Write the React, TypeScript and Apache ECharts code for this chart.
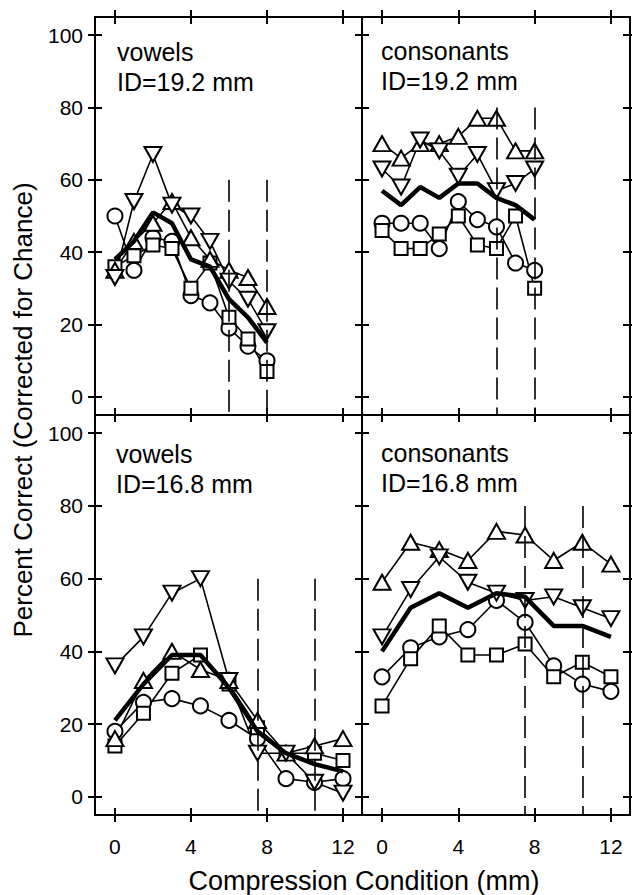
import React, { useEffect, useRef } from "react";
import * as echarts from "echarts";

// x positions (compression condition, mm)
const xTop = [0, 1, 2, 3, 4, 5, 6, 7, 8];
const xBottom = [0, 1.5, 3, 4.5, 6, 7.5, 9, 10.5, 12];
const xTicks = [0, 4, 8, 12];
const yTicks = [0, 20, 40, 60, 80, 100];

// vowels, ID = 19.2 mm
const v192Circle = [50, 35, 44, 43, 28, 26, 19, 14, 10];
const v192Square = [36, 39, 42, 41, 30, 37, 22, 16, 7];
const v192Up = [35, 43, 48, 54, 44, 38, 35, 33, 25];
const v192Down = [33, 54, 67, 53, 50, 43, 32, 27, 18];
const v192Mean = [38, 43, 51, 48, 38, 36, 27, 22, 15];

// consonants, ID = 19.2 mm
const c192Circle = [48, 48, 48, 41, 54, 49, 47, 37, 35];
const c192Square = [46, 41, 41, 45, 50, 42, 41, 50, 30];
const c192Up = [70, 66, 70, 70, 72, 77, 77, 68, 68];
const c192Down = [63, 58, 71, 68, 61, 67, 57, 59, 63];
const c192Mean = [57, 53, 58, 55, 59, 59, 55, 53, 49];

// vowels, ID = 16.8 mm
const v168Circle = [18, 26, 27, 25, 21, 16, 5, 4, 5];
const v168Square = [14, 23, 34, 39, 31, 19, 12, 12, 10];
const v168Up = [16, 32, 40, 35, 32, 21, 12, 14, 16];
const v168Down = [36, 44, 56, 60, 32, 12, 12, 4, 1];
const v168Mean = [21, 31, 39, 39, 30, 18, 12, 9, 7];

// consonants, ID = 16.8 mm
const c168Circle = [33, 41, 44, 46, 54, 48, 36, 31, 29];
const c168Square = [25, 38, 47, 39, 39, 42, 33, 37, 33];
const c168Up = [59, 70, 68, 65, 73, 72, 65, 70, 64];
const c168Down = [44, 57, 66, 59, 56, 54, 55, 52, 49];
const c168Mean = [40, 52, 56, 52, 56, 55, 47, 47, 44];

// dashed reference lines (x position)
const dashTop = [6, 8];
const dashBottom = [7.5, 10.5];

const FONT = '"Liberation Sans", Arial, Helvetica, sans-serif';

const panels = [
  { x: xTop, circle: v192Circle, square: v192Square, up: v192Up, down: v192Down, mean: v192Mean, dash: dashTop, dashFrom: 60, l1: "vowels", l2: "ID=19.2 mm" },
  { x: xTop, circle: c192Circle, square: c192Square, up: c192Up, down: c192Down, mean: c192Mean, dash: dashTop, dashFrom: 80, l1: "consonants", l2: "ID=19.2 mm" },
  { x: xBottom, circle: v168Circle, square: v168Square, up: v168Up, down: v168Down, mean: v168Mean, dash: dashBottom, dashFrom: 60, l1: "vowels", l2: "ID=16.8 mm" },
  { x: xBottom, circle: c168Circle, square: c168Square, up: c168Up, down: c168Down, mean: c168Mean, dash: dashBottom, dashFrom: 80, l1: "consonants", l2: "ID=16.8 mm" },
];

const grids = [
  { left: 95, top: 17, width: 267, height: 398 },
  { left: 362, top: 17, width: 268, height: 398 },
  { left: 95, top: 415, width: 267, height: 400 },
  { left: 362, top: 415, width: 268, height: 400 },
];

const labelPos = [
  { x: 117, y1: 52, y2: 82 },
  { x: 381, y1: 51, y2: 81 },
  { x: 116, y1: 454, y2: 484 },
  { x: 381, y1: 453, y2: 483 },
];

function buildOption() {
  const tick = { show: true, inside: false, length: 14, lineStyle: { color: "#000", width: 2 } };
  const xAxis: any[] = [];
  const yAxis: any[] = [];
  const series: any[] = [];
  const graphic: any[] = [];

  grids.forEach((g, i) => {
    const showX = i >= 2;
    const showY = i % 2 === 0;
    ["bottom", "top"].forEach((pos) => {
      xAxis.push({
        type: "value",
        gridIndex: i,
        position: pos,
        offset: -7,
        min: -1.05,
        max: 13,
        axisLine: { show: false, onZero: false },
        axisTick: { ...tick, customValues: xTicks },
        splitLine: { show: false },
        axisLabel: {
          show: pos === "bottom" && showX,
          customValues: xTicks,
          margin: 28,
          fontSize: 21,
          fontFamily: FONT,
          color: "#000",
        },
      });
    });
    ["left", "right"].forEach((pos) => {
      yAxis.push({
        type: "value",
        gridIndex: i,
        position: pos,
        offset: -7,
        min: -5,
        max: 105,
        axisLine: { show: false, onZero: false },
        axisTick: { ...tick, customValues: yTicks },
        splitLine: { show: false },
        axisLabel: {
          show: pos === "left" && showY,
          customValues: yTicks,
          margin: 19,
          fontSize: 21,
          fontFamily: FONT,
          color: "#000",
        },
      });
    });

    const p = panels[i];
    const pairs = (ys: number[]) => p.x.map((x, k) => [x, ys[k]]);
    const marker = (ys: number[], symbol: string, size: any, rotate = 0) => ({
      type: "line",
      xAxisIndex: 2 * i,
      yAxisIndex: 2 * i,
      data: pairs(ys),
      symbol,
      symbolSize: size,
      symbolRotate: rotate,
      showAllSymbol: true,
      itemStyle: { color: "#fff", borderColor: "#000", borderWidth: 2 },
      lineStyle: { color: "#000", width: 1.6 },
      z: 3,
    });
    series.push(marker(p.circle, "circle", 15));
    series.push(marker(p.square, "rect", 13));
    series.push(marker(p.up, "triangle", [17, 15]));
    series.push(marker(p.down, "triangle", [17, 15], 180));
    series.push({
      type: "line",
      xAxisIndex: 2 * i,
      yAxisIndex: 2 * i,
      data: pairs(p.mean),
      symbol: "none",
      lineStyle: { color: "#000", width: 4.5 },
      z: 5,
      markLine: {
        silent: true,
        symbol: ["none", "none"],
        label: { show: false },
        lineStyle: { color: "#000", width: 1.6, type: [22, 8] },
        data: p.dash.map((d) => [{ coord: [d, p.dashFrom] }, { coord: [d, -5] }]),
      },
    });

    const lp = labelPos[i];
    graphic.push({
      type: "text",
      x: lp.x,
      y: lp.y1,
      style: { text: p.l1, font: `25px ${FONT}`, fill: "#000", align: "left", verticalAlign: "middle" },
    });
    graphic.push({
      type: "text",
      x: lp.x,
      y: lp.y2,
      style: { text: p.l2, font: `25px ${FONT}`, fill: "#000", align: "left", verticalAlign: "middle" },
    });
  });

  graphic.push({
    type: "text",
    x: 23,
    y: 410,
    rotation: Math.PI / 2,
    style: { text: "Percent Correct (Corrected for Chance)", font: `26px ${FONT}`, fill: "#000", align: "center", verticalAlign: "middle" },
  });
  graphic.push({
    type: "text",
    x: 364,
    y: 881,
    style: { text: "Compression Condition (mm)", font: `27px ${FONT}`, fill: "#000", align: "center", verticalAlign: "middle" },
  });

  return {
    animation: false,
    backgroundColor: "#fff",
    grid: grids.map((g) => ({
      ...g,
      show: true,
      borderColor: "#000",
      borderWidth: 2,
      backgroundColor: "transparent",
      containLabel: false,
      outerBoundsMode: "none",
    })),
    xAxis,
    yAxis,
    series,
    graphic,
  };
}

export default function App() {
  const ref = useRef<HTMLDivElement>(null);
  useEffect(() => {
    document.body.style.margin = "0";
    const chart = echarts.init(ref.current!, undefined, { renderer: "svg" });
    chart.setOption(buildOption() as any);
    return () => chart.dispose();
  }, []);
  return <div ref={ref} style={{ width: 632, height: 895, position: "absolute", left: 0, top: 0 }} />;
}
